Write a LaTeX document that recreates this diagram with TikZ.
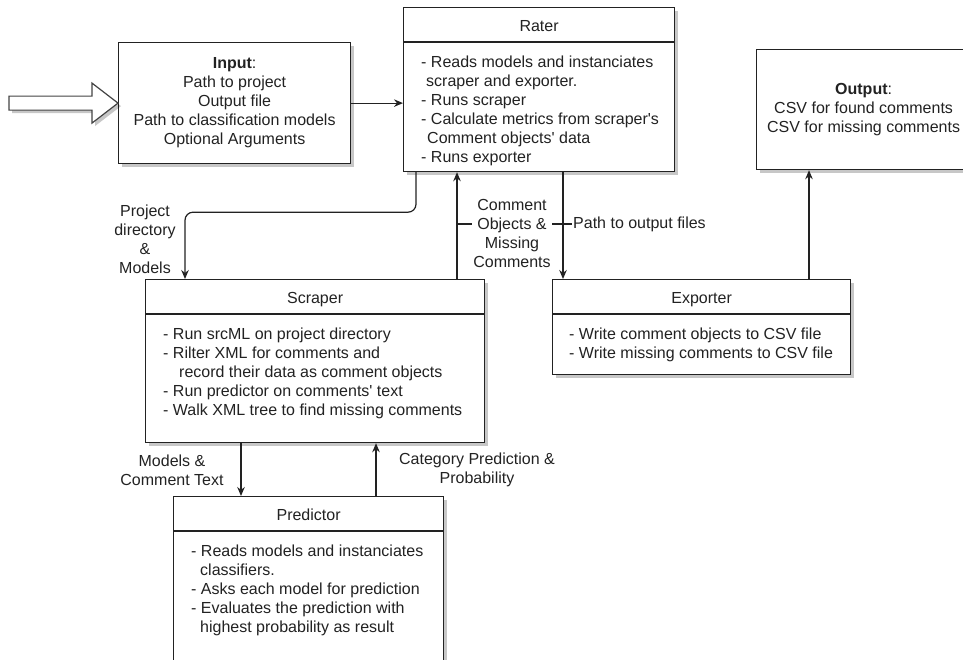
\documentclass[tikz,border=0pt]{standalone}
\usepackage{fontspec}
\setmainfont{Liberation Sans}
\usetikzlibrary{arrows.meta,shadows}
\definecolor{ink}{HTML}{222222}
\newcommand\apos{\textquotesingle}
\begin{document}
\begin{tikzpicture}[x=1pt,y=-1pt,
  every node/.style={text=ink, font=\fontsize{16}{19}\selectfont},
  shade/.style={drop shadow={shadow xshift=3pt, shadow yshift=-3pt, opacity=0.22, fill=black}},
  box/.style={draw=ink, line width=1.2pt, fill=white, inner sep=0pt, anchor=north west, shade},
  ln/.style={draw=ink, line width=1.2pt},
  arr/.style={ln, -{Stealth[length=9pt,width=7.5pt]}},
  title/.style={anchor=base, inner sep=0pt},
  body/.style={anchor=north west, align=left, inner sep=0pt},
  lbl/.style={align=center, inner sep=1pt},
]
\useasboundingbox (0,0) rectangle (963,659);
\clip (0,0) rectangle (963,659);

% ---- boxes ----
\node[box, minimum width=232pt, minimum height=121pt] (input) at (118,42) {};
\node[box, minimum width=271pt, minimum height=164pt] (rater) at (403,7) {};
\node[box, minimum width=224pt, minimum height=120pt] (output) at (756,49) {};
\node[box, minimum width=339pt, minimum height=163pt] (scraper) at (145,279) {};
\node[box, minimum width=298pt, minimum height=95pt] (exporter) at (552,279) {};
\node[box, minimum width=270pt, minimum height=200pt] (predictor) at (173,496) {};

% header separators
\foreach \b in {rater,scraper,exporter,predictor}
  \draw[ln] ([yshift=-35pt]\b.north west) -- ([yshift=-35pt]\b.north east);

% ---- box texts ----
\node[align=center, inner sep=0pt] at (input.center)
  {\textbf{Input}:\\Path to project\\Output file\\Path to classification models\\Optional Arguments};
\node[align=center, inner sep=0pt] at ([xshift=-5pt]output.center)
  {\textbf{Output}:\\CSV for found comments\\CSV for missing comments};

\node[title] at ([yshift=-24pt]rater.north) {Rater};
\node[body] at ([xshift=18pt,yshift=-48.5pt]rater.north west)
  {- Reads models and instanciates\\\hspace*{5pt}scraper and exporter.\\- Runs scraper\\- Calculate metrics from scraper\apos s\\\hspace*{6pt}Comment objects\apos\ data\\- Runs exporter};

\node[title] at ([yshift=-24pt]scraper.north) {Scraper};
\node[body] at ([xshift=18pt,yshift=-48.5pt]scraper.north west)
  {- Run srcML on project directory\\- Rilter XML for comments and\\\hspace*{16pt}record their data as comment objects\\- Run predictor on comments\apos\ text\\- Walk XML tree to find missing comments};

\node[title] at ([yshift=-24pt]exporter.north) {Exporter};
\node[body] at ([xshift=17pt,yshift=-48.5pt]exporter.north west)
  {- Write comment objects to CSV file\\- Write missing comments to CSV file};

\node[title] at ([yshift=-24pt]predictor.north) {Predictor};
\node[body] at ([xshift=18pt,yshift=-48.5pt]predictor.north west)
  {- Reads models and instanciates\\\hspace*{9pt}classifiers.\\- Asks each model for prediction\\- Evaluates the prediction with\\\hspace*{9pt}highest probability as result};

% ---- hollow entry arrow, tip on the input box ----
\coordinate (tip) at (input.west);
\draw[draw=ink!85, line width=1.2pt, fill=white, shade, line join=miter]
  (tip) -- ++(-26,-20) -- ++(0,13) -- ++(-83,0) -- ++(0,14)
  -- ++(83,0) -- ++(0,13) -- cycle;

% ---- connectors ----
\draw[arr] (input.east) -- (input.east -| rater.west);

\draw[arr, rounded corners=8pt] ([xshift=13pt]rater.south west) -- ++(0,40)
  -| ([xshift=40pt]scraper.north west);
\node[lbl] (plab0) at (145,239) {Project\\directory\\\&\\Models};

\coordinate (cu) at ([xshift=312pt]scraper.north west);
\draw[arr] (cu) -- (cu |- rater.south);

\coordinate (ce) at ([xshift=11pt]exporter.north west);
\draw[arr] (ce |- rater.south) -- (ce);

\node[lbl, anchor=west, fill=white] (plab) at (572,224) {Path to output files};
\draw[ln] (cu |- plab.west) -- (plab.west);
\node[lbl, fill=white] (clab) at (512,233) {Comment\\Objects \&\\Missing\\Comments};

\coordinate (co) at ([xshift=257pt]exporter.north west);
\draw[arr] (co) -- (co |- output.south);

\coordinate (cs) at ([xshift=96pt]scraper.south west);
\draw[arr] (cs) -- (cs |- predictor.north);
\node[lbl] (mlab) at (172,470) {Models \&\\Comment Text};

\coordinate (cp) at ([xshift=203pt]predictor.north west);
\draw[arr] (cp) -- (cp |- scraper.south);
\node[lbl] (klab) at (477,470) {Category Prediction \&\\Probability};
\end{tikzpicture}
\end{document}
